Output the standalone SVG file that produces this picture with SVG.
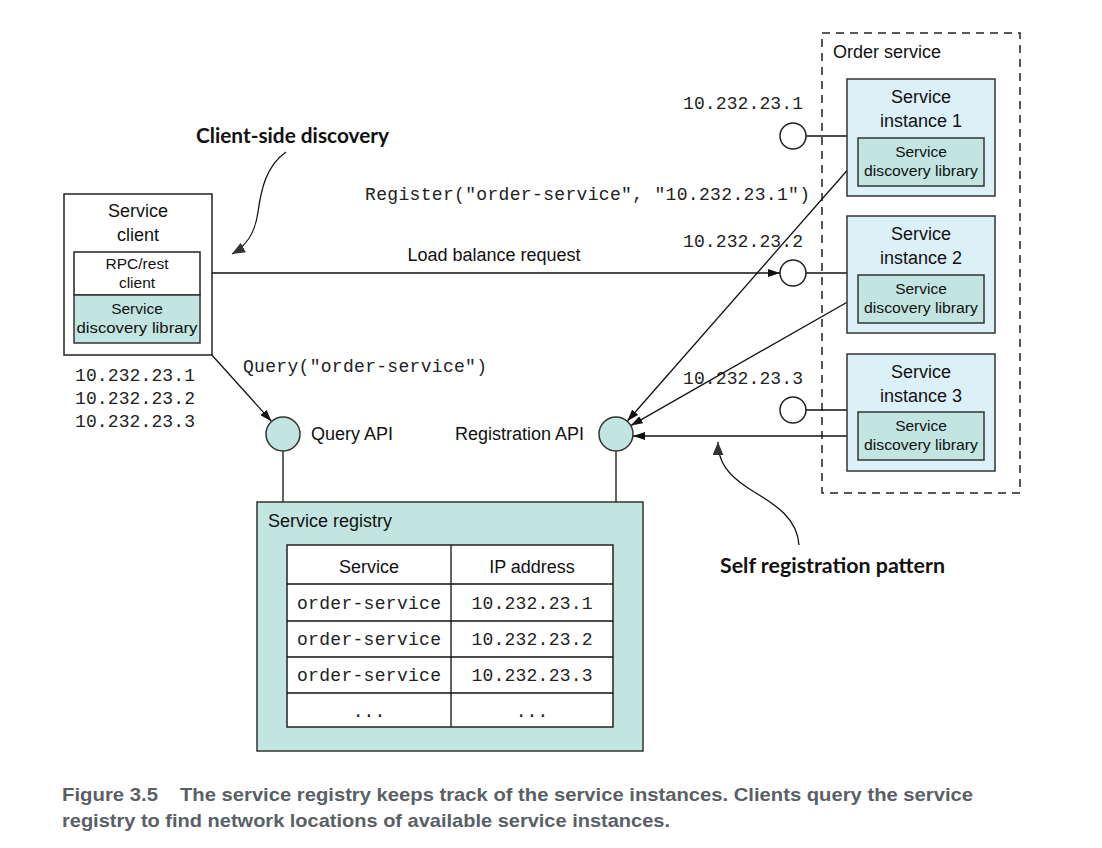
<svg xmlns="http://www.w3.org/2000/svg" width="1102" height="848" viewBox="0 0 1102 848">
<defs>
<style>
.box{fill:#fff;stroke:#222;stroke-width:1.5}
.teal{fill:#c3e5e1;stroke:#333;stroke-width:1.5}
.inst{fill:#dcf0f8;stroke:#333;stroke-width:1.5}
.ln{stroke:#111;stroke-width:1.3;fill:none}
.t{font-family:"Liberation Sans",Arial,sans-serif;font-size:18px;fill:#111}
.ts{font-family:"Liberation Sans",Arial,sans-serif;font-size:15.5px;fill:#111}
.m{font-family:"Liberation Mono","Courier New",monospace;font-size:18px;fill:#222}
.b{font-family:"Lato","Open Sans",sans-serif;font-weight:bold;font-size:21px;fill:#111}
.cap{font-family:"Liberation Sans",Arial,sans-serif;font-weight:bold;font-size:19px;fill:#5a5f66}
.c{text-anchor:middle}
</style>
<marker id="ah" viewBox="0 0 12 8" refX="12" refY="4" markerWidth="12" markerHeight="8" markerUnits="userSpaceOnUse" orient="auto">
<path d="M0,0 L12,4 L0,8 Z" fill="#111"/>
</marker>
<marker id="ah2" viewBox="0 0 12 10" refX="12" refY="5" markerWidth="13" markerHeight="11" markerUnits="userSpaceOnUse" orient="auto">
<path d="M0,0 L12,5 L0,10 Z" fill="#333"/>
</marker>
</defs>
<rect width="1102" height="848" fill="#fff"/>

<g id="order-service">
<rect x="822" y="33" width="198" height="460" fill="none" stroke="#222" stroke-width="1.5" stroke-dasharray="8,6"/>
<text class="t" x="833" y="58">Order service</text>
</g>

<g id="connectors">
<line class="ln" x1="806" y1="136" x2="847" y2="136"/>
<line class="ln" x1="806" y1="273" x2="847" y2="273"/>
<line class="ln" x1="806" y1="410" x2="847" y2="410"/>
<line class="ln" x1="212" y1="273" x2="780" y2="273" marker-end="url(#ah)"/>
<line class="ln" x1="201" y1="343" x2="271.6" y2="421.4" marker-end="url(#ah)"/>
<line class="ln" x1="858" y1="158" x2="627.2" y2="421.2" marker-end="url(#ah)"/>
<line class="ln" x1="858" y1="296" x2="630.8" y2="425.6" marker-end="url(#ah)"/>
<line class="ln" x1="858" y1="436" x2="633" y2="436" marker-end="url(#ah)"/>
<line class="ln" x1="283" y1="451" x2="283" y2="502"/>
<line class="ln" x1="616" y1="451" x2="616" y2="502"/>
<path class="ln" stroke="#333" d="M286,152 C266,166 261,190 258,212 C255,234 246,246 232,254" marker-end="url(#ah2)"/>
<path class="ln" stroke="#333" d="M799,545 C797,515 770,502 748,488 C728,475 718,462 718,442" marker-end="url(#ah2)"/>
</g>

<g id="service-client">
<rect class="box" x="64" y="194" width="148" height="161"/>
<text class="t c" x="138" y="217">Service</text>
<text class="t c" x="138" y="241">client</text>
<rect class="box" x="74" y="252" width="126" height="43"/>
<text class="ts c" x="137" y="269">RPC/rest</text>
<text class="ts c" x="137" y="288">client</text>
<rect class="teal" x="74" y="295" width="126" height="48"/>
<text class="ts c" x="137" y="314">Service</text>
<text class="ts c" x="137" y="333" textLength="121" lengthAdjust="spacingAndGlyphs">discovery library</text>
</g>

<g id="instance-1">
<rect class="inst" x="847" y="79" width="148" height="117"/>
<text class="t c" x="921" y="103">Service</text>
<text class="t c" x="921" y="127">instance 1</text>
<rect class="teal" x="858" y="138" width="126" height="48"/>
<text class="ts c" x="921" y="157">Service</text>
<text class="ts c" x="921" y="176" textLength="114" lengthAdjust="spacingAndGlyphs">discovery library</text>
</g>
<g id="instance-2">
<rect class="inst" x="847" y="216" width="148" height="117"/>
<text class="t c" x="921" y="240">Service</text>
<text class="t c" x="921" y="264">instance 2</text>
<rect class="teal" x="858" y="275" width="126" height="48"/>
<text class="ts c" x="921" y="294">Service</text>
<text class="ts c" x="921" y="313" textLength="114" lengthAdjust="spacingAndGlyphs">discovery library</text>
</g>
<g id="instance-3">
<rect class="inst" x="847" y="354" width="148" height="117"/>
<text class="t c" x="921" y="378">Service</text>
<text class="t c" x="921" y="402">instance 3</text>
<rect class="teal" x="858" y="412" width="126" height="48"/>
<text class="ts c" x="921" y="431">Service</text>
<text class="ts c" x="921" y="450" textLength="114" lengthAdjust="spacingAndGlyphs">discovery library</text>
</g>

<g id="endpoints">
<circle cx="793" cy="136" r="13" fill="#fff" stroke="#222" stroke-width="1.5"/>
<circle cx="793" cy="273" r="13" fill="#fff" stroke="#222" stroke-width="1.5"/>
<circle cx="793" cy="410" r="13" fill="#fff" stroke="#222" stroke-width="1.5"/>
<text class="m" x="683" y="109" textLength="120">10.232.23.1</text>
<text class="m" x="683" y="247" textLength="120">10.232.23.2</text>
<text class="m" x="683" y="384" textLength="120">10.232.23.3</text>
</g>

<g id="query-api">
<circle class="teal" cx="283" cy="434" r="17"/>
<text class="t" x="311" y="440">Query API</text>
</g>
<g id="registration-api">
<circle class="teal" cx="616" cy="434" r="17"/>
<text class="t" x="455" y="440">Registration API</text>
</g>

<g id="service-registry">
<rect class="teal" x="257" y="502" width="386" height="249"/>
<text class="t" x="268" y="527">Service registry</text>
<rect x="287" y="545" width="326" height="182" fill="#fff" stroke="#222" stroke-width="1.5"/>
<line class="ln" x1="451" y1="545" x2="451" y2="727"/>
<line class="ln" x1="287" y1="584" x2="613" y2="584"/>
<line class="ln" x1="287" y1="621" x2="613" y2="621"/>
<line class="ln" x1="287" y1="657" x2="613" y2="657"/>
<line class="ln" x1="287" y1="693" x2="613" y2="693"/>
<text class="t c" x="369" y="573">Service</text>
<text class="t c" x="532" y="573">IP address</text>
<text class="m c" x="369" y="609" textLength="144">order-service</text>
<text class="m c" x="532" y="609" textLength="121">10.232.23.1</text>
<text class="m c" x="369" y="645" textLength="144">order-service</text>
<text class="m c" x="532" y="645" textLength="121">10.232.23.2</text>
<text class="m c" x="369" y="681" textLength="144">order-service</text>
<text class="m c" x="532" y="681" textLength="121">10.232.23.3</text>
<text class="m c" x="369" y="717">...</text>
<text class="m c" x="532" y="717">...</text>
</g>

<g id="labels">
<text class="t c" x="494" y="261">Load balance request</text>
<text class="m" x="365" y="200" textLength="445">Register("order-service", "10.232.23.1")</text>
<text class="m" x="243" y="372" textLength="244">Query("order-service")</text>
<text class="m" x="75" y="381" textLength="120">10.232.23.1</text>
<text class="m" x="75" y="404" textLength="120">10.232.23.2</text>
<text class="m" x="75" y="427" textLength="120">10.232.23.3</text>
<text class="b" x="196" y="143" textLength="193" lengthAdjust="spacingAndGlyphs">Client-side discovery</text>
<text class="b" x="720" y="573" textLength="225" lengthAdjust="spacingAndGlyphs">Self registration pattern</text>
</g>

<g id="caption">
<text class="cap" x="62" y="801" textLength="96" lengthAdjust="spacingAndGlyphs">Figure 3.5</text>
<text class="cap" x="180" y="801" textLength="793" lengthAdjust="spacingAndGlyphs">The service registry keeps track of the service instances. Clients query the service</text>
<text class="cap" x="62" y="827" textLength="608" lengthAdjust="spacingAndGlyphs">registry to find network locations of available service instances.</text>
</g>
</svg>
